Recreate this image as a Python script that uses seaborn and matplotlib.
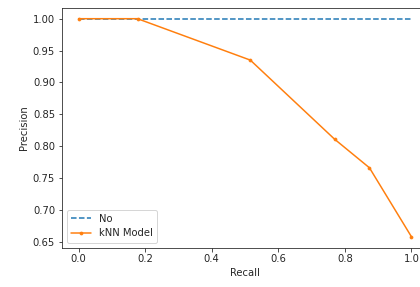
import pandas as pd
import seaborn as sns
import matplotlib
matplotlib.use('Agg')
import matplotlib.pyplot as plt

# Values
no_skill_recall = [0.0, 1.0]
no_skill_precision = [1.0, 1.0]
knn_recall = [0.0, 0.177, 0.516, 0.769, 0.874, 1.0]
knn_precision = [1.0, 1.0, 0.935, 0.811, 0.766, 0.658]

df_no = pd.DataFrame({'Recall': no_skill_recall, 'Precision': no_skill_precision})
df_knn = pd.DataFrame({'Recall': knn_recall, 'Precision': knn_precision})

sns.set_style('ticks')
plt.rcParams['font.family'] = ['DejaVu Sans']

fig = plt.figure(figsize=(420 / 72, 287 / 72), dpi=72)
ax = fig.add_axes([62 / 420, 1 - 247.5 / 287, 366 / 420, 239.7 / 287])

sns.lineplot(data=df_no, x='Recall', y='Precision', ax=ax, linestyle='--',
             color='tab:blue', label='No', estimator=None, sort=False)
sns.lineplot(data=df_knn, x='Recall', y='Precision', ax=ax, marker='.',
             color='tab:orange', label='kNN Model', estimator=None, sort=False,
             markeredgecolor='tab:orange')

ax.set_xticks([0.0, 0.2, 0.4, 0.6, 0.8, 1.0])
ax.set_yticks([0.65, 0.70, 0.75, 0.80, 0.85, 0.90, 0.95, 1.00])
ax.set_xlabel('Recall')
ax.set_ylabel('Precision')
ax.legend(loc='lower left')

fig.savefig('out.png', dpi=72)
